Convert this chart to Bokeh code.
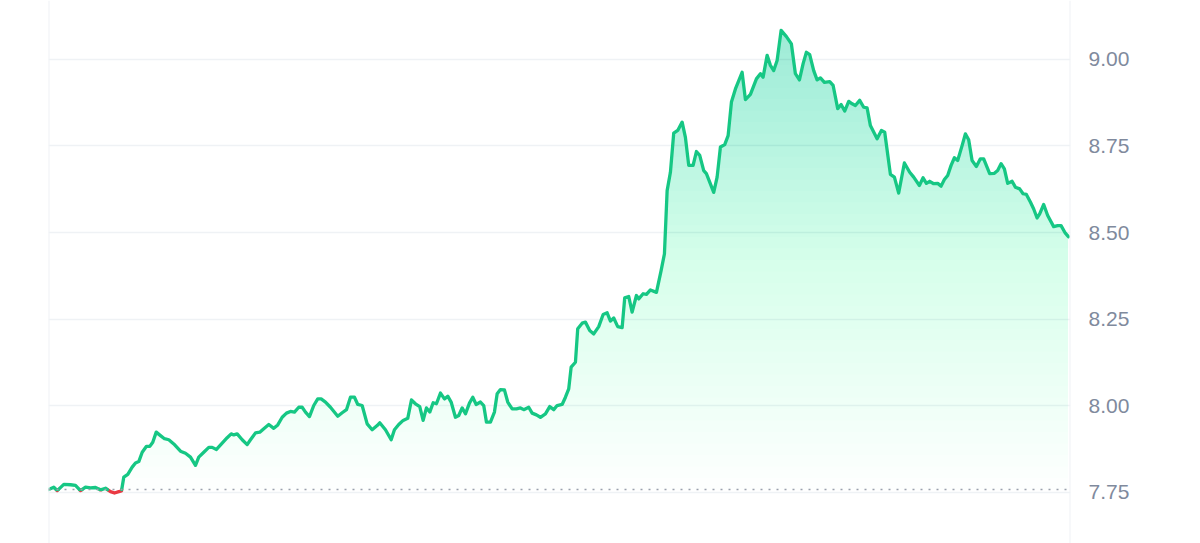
import numpy as np
from bokeh.plotting import figure
from bokeh.models import Span, FixedTicker, NumeralTickFormatter, Range1d
from bokeh.embed import file_html
from bokeh.resources import INLINE

# time in hours over the last 24h
hours = [0.0, 0.125, 0.205, 0.36, 0.518, 0.635, 0.753, 0.871, 0.988, 1.106,
         1.224, 1.341, 1.459, 1.553, 1.654, 1.718, 1.772, 1.866, 1.969, 2.047,
         2.125, 2.205, 2.306, 2.384, 2.454, 2.535, 2.635, 2.729, 2.831, 2.948,
         3.106, 3.224, 3.341, 3.459, 3.536, 3.654, 3.772, 3.852, 3.953, 4.087,
         4.205, 4.299, 4.36, 4.44, 4.558, 4.675, 4.753, 4.871, 4.972, 5.066,
         5.184, 5.301, 5.395, 5.499, 5.6, 5.694, 5.788, 5.889, 5.969, 6.047,
         6.141, 6.242, 6.336, 6.416, 6.518, 6.635, 6.807, 6.911, 7.012, 7.106,
         7.2, 7.278, 7.381, 7.499, 7.616, 7.734, 7.795, 7.929, 8.064, 8.141,
         8.242, 8.346, 8.454, 8.541, 8.635, 8.736, 8.816, 8.894, 8.972, 9.052,
         9.129, 9.224, 9.318, 9.395, 9.475, 9.576, 9.654, 9.734, 9.812, 9.906,
         9.984, 10.064, 10.165, 10.242, 10.306, 10.4, 10.494, 10.558, 10.635, 10.729,
         10.807, 10.911, 11.012, 11.106, 11.184, 11.301, 11.381, 11.482, 11.576, 11.694,
         11.795, 11.889, 11.969, 12.087, 12.165, 12.242, 12.299, 12.4, 12.454, 12.558,
         12.635, 12.736, 12.831, 12.948, 13.052, 13.146, 13.224, 13.301, 13.395, 13.499,
         13.56, 13.654, 13.734, 13.835, 13.889, 13.993, 14.071, 14.165, 14.306, 14.416,
         14.494, 14.558, 14.635, 14.713, 14.807, 14.911, 14.988, 15.066, 15.169, 15.247,
         15.325, 15.419, 15.482, 15.654, 15.734, 15.812, 15.913, 15.993, 16.071, 16.165,
         16.322, 16.4, 16.518, 16.659, 16.753, 16.816, 16.911, 16.988, 17.066, 17.146,
         17.24, 17.365, 17.482, 17.576, 17.671, 17.758, 17.835, 17.913, 18.007, 18.087,
         18.165, 18.259, 18.384, 18.464, 18.572, 18.652, 18.736, 18.831, 18.911, 18.988,
         19.089, 19.184, 19.264, 19.341, 19.499, 19.6, 19.678, 19.812, 19.906, 20.007,
         20.141, 20.266, 20.36, 20.494, 20.581, 20.659, 20.736, 20.831, 20.925, 21.005,
         21.082, 21.16, 21.24, 21.318, 21.395, 21.499, 21.576, 21.654, 21.734, 21.835,
         21.929, 22.007, 22.148, 22.259, 22.336, 22.416, 22.494, 22.572, 22.675, 22.753,
         22.854, 22.934, 23.012, 23.106, 23.184, 23.264, 23.325, 23.419, 23.513, 23.654,
         23.748, 23.828, 23.929, 24.0]

prices = [7.757, 7.764, 7.754, 7.772, 7.771, 7.769, 7.754, 7.764, 7.762, 7.763,
          7.756, 7.761, 7.751, 7.747, 7.751, 7.753, 7.793, 7.801, 7.822, 7.834,
          7.838, 7.865, 7.882, 7.882, 7.894, 7.923, 7.913, 7.904, 7.901, 7.889,
          7.868, 7.862, 7.851, 7.827, 7.851, 7.865, 7.879, 7.879, 7.873, 7.891,
          7.907, 7.918, 7.915, 7.918, 7.901, 7.887, 7.901, 7.921, 7.923, 7.933,
          7.945, 7.934, 7.944, 7.966, 7.978, 7.983, 7.981, 7.995, 7.995, 7.981,
          7.968, 8.000, 8.019, 8.019, 8.010, 7.995, 7.969, 7.979, 7.988, 8.024,
          8.024, 8.003, 8.000, 7.947, 7.930, 7.942, 7.950, 7.930, 7.901, 7.930,
          7.945, 7.957, 7.963, 8.016, 8.005, 7.997, 7.957, 7.993, 7.981, 8.008,
          8.005, 8.036, 8.019, 8.027, 8.010, 7.966, 7.971, 7.993, 7.976, 8.007,
          8.024, 8.003, 8.010, 8.000, 7.952, 7.952, 7.981, 8.034, 8.046, 8.045,
          8.010, 7.990, 7.990, 7.993, 7.988, 7.995, 7.978, 7.973, 7.966, 7.976,
          7.997, 7.988, 8.000, 8.003, 8.024, 8.048, 8.111, 8.125, 8.222, 8.238,
          8.241, 8.217, 8.207, 8.228, 8.263, 8.268, 8.244, 8.253, 8.228, 8.225,
          8.311, 8.315, 8.270, 8.318, 8.308, 8.323, 8.321, 8.334, 8.327, 8.390,
          8.438, 8.621, 8.674, 8.787, 8.795, 8.819, 8.775, 8.694, 8.694, 8.734,
          8.723, 8.679, 8.670, 8.616, 8.660, 8.747, 8.754, 8.780, 8.877, 8.915,
          8.963, 8.884, 8.899, 8.944, 8.959, 8.949, 9.012, 8.983, 8.968, 8.997,
          9.084, 9.066, 9.045, 8.959, 8.941, 8.988, 9.021, 9.014, 8.968, 8.941,
          8.947, 8.934, 8.936, 8.925, 8.858, 8.870, 8.851, 8.879, 8.872, 8.867,
          8.882, 8.862, 8.860, 8.809, 8.771, 8.795, 8.790, 8.668, 8.660, 8.614,
          8.701, 8.674, 8.660, 8.636, 8.658, 8.642, 8.648, 8.641, 8.642, 8.634,
          8.653, 8.665, 8.694, 8.716, 8.708, 8.751, 8.785, 8.768, 8.708, 8.691,
          8.713, 8.713, 8.670, 8.671, 8.679, 8.699, 8.684, 8.642, 8.648, 8.631,
          8.626, 8.612, 8.610, 8.588, 8.568, 8.542, 8.554, 8.581, 8.549, 8.517,
          8.520, 8.520, 8.498, 8.488]

y_ticks = [7.75, 8.00, 8.25, 8.50, 8.75, 9.00]

GREEN = "#16c784"
RED = "#ea3943"
GRID = "#eff2f5"
LABEL = "#808a9d"

x = np.array(hours)
y = np.array(prices)
base = prices[0]

p = figure(width=1200, height=543, output_backend="svg", toolbar_location=None,
           x_range=Range1d(0, 24.05), y_range=Range1d(7.6012, 9.1705),
           x_axis_location=None, y_axis_location="right",
           min_border_left=48, min_border_right=130, min_border_top=0, min_border_bottom=0)
p.outline_line_color = None
p.background_fill_color = "white"
p.border_fill_color = "white"
p.xgrid.grid_line_color = None
p.ygrid.grid_line_color = GRID
p.ygrid.grid_line_width = 1.5

ax = p.yaxis[0]
ax.ticker = FixedTicker(ticks=y_ticks)
ax.formatter = NumeralTickFormatter(format="0.00")
ax.axis_line_color = None
ax.major_tick_line_color = None
ax.minor_tick_line_color = None
ax.major_label_text_color = LABEL
ax.major_label_text_font = "Liberation Sans"
ax.major_label_text_font_size = "21px"
ax.major_label_standoff = 12

# vertical frame lines
for loc in (p.x_range.start, p.x_range.end):
    p.add_layout(Span(location=loc, dimension="height", line_color=GRID, line_width=2))

# gradient fill built from stacked translucent layers
top = y.max()
N = 40
target_top = 0.33
prev = 0.0
for k in range(N):
    lvl = base + (top - base) * k / N
    t = target_top * (k + 1) / N
    a = 1 - (1 - t) / (1 - prev)
    prev = t
    p.varea(x=x, y1=np.full_like(y, lvl), y2=np.maximum(y, lvl),
            fill_color=GREEN, fill_alpha=a)

# baseline
p.add_layout(Span(location=base, dimension="width", line_color="#9aa1ad",
                  line_width=1.5, line_dash="2 6"))

# split line into green (above base) and red (below base) runs
runs = {"g": [], "r": []}
cur_x, cur_y = [x[0]], [y[0]]
cur_c = "g" if y[0] >= base else "r"
for i in range(1, len(x)):
    c = "g" if y[i] >= base else "r"
    if c != cur_c:
        t = (base - y[i - 1]) / (y[i] - y[i - 1])
        xc = x[i - 1] + t * (x[i] - x[i - 1])
        cur_x.append(xc); cur_y.append(base)
        runs[cur_c].append((cur_x, cur_y))
        cur_x, cur_y, cur_c = [xc], [base], c
    cur_x.append(x[i]); cur_y.append(y[i])
runs[cur_c].append((cur_x, cur_y))

for key, col in (("r", RED), ("g", GREEN)):
    if runs[key]:
        p.multi_line(xs=[r[0] for r in runs[key]], ys=[r[1] for r in runs[key]],
                     line_color=col, line_width=3.3, line_join="round", line_cap="round")

open("out.html", "w").write(file_html(p, INLINE))
